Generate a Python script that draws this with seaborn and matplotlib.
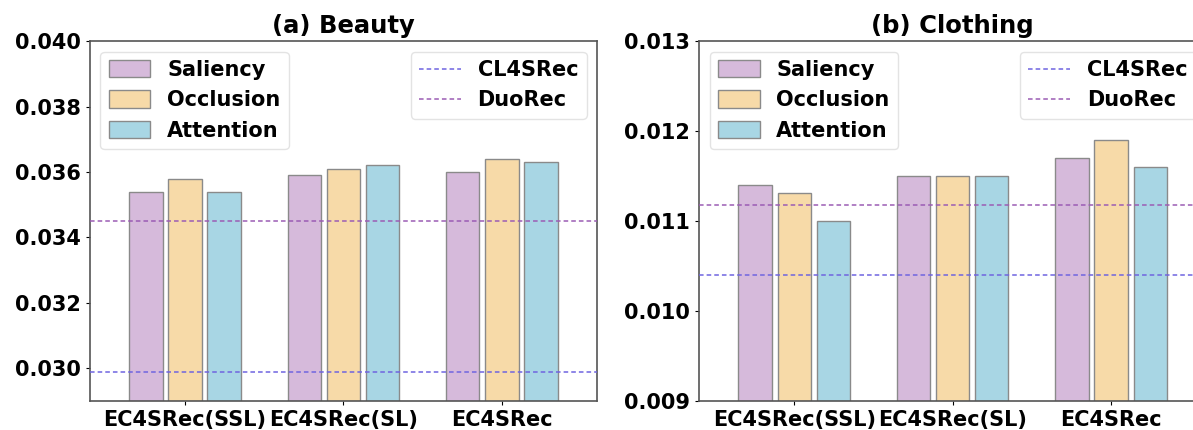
import pandas as pd
import matplotlib.pyplot as plt
import seaborn as sns
from matplotlib.lines import Line2D

# Datos
modelos = ["EC4SRec(SSL)", "EC4SRec(SL)", "EC4SRec"]
metodos = ["Saliency", "Occlusion", "Attention"]

beauty_saliency = [0.0354, 0.0359, 0.0360]
beauty_occlusion = [0.0358, 0.0361, 0.0364]
beauty_attention = [0.0354, 0.0362, 0.0363]
beauty_cl4srec = 0.0299
beauty_duorec = 0.0345

clothing_saliency = [0.01140, 0.01150, 0.01170]
clothing_occlusion = [0.01131, 0.01150, 0.01190]
clothing_attention = [0.01100, 0.01150, 0.01160]
clothing_cl4srec = 0.01040
clothing_duorec = 0.01118

colores = ["#d6badb", "#f7daa8", "#a8d6e4"]
color_cl4srec = "#6f64e0"
color_duorec = "#9b5cb4"

sns.set_style("ticks")
plt.rcParams["font.family"] = ["DejaVu Sans"]
plt.rcParams["font.weight"] = "bold"
plt.rcParams["font.size"] = 15
plt.rcParams["text.color"] = "black"
plt.rcParams["xtick.color"] = "black"
plt.rcParams["ytick.color"] = "black"


def tabla(sal, occ, att):
    filas = []
    for nombre, vals in zip(metodos, [sal, occ, att]):
        for m, v in zip(modelos, vals):
            filas.append({"Modelo": m, "Metodo": nombre, "Valor": v})
    return pd.DataFrame(filas)


def dibujar(ax, df, cl4, duo, titulo, ylim, yticks, fmt):
    sns.barplot(data=df, x="Modelo", y="Valor", hue="Metodo", palette=colores,
                saturation=1, width=0.74, gap=0.15, edgecolor="#8a8a8a",
                linewidth=1, ax=ax, zorder=2)
    ax.axhline(cl4, color=color_cl4srec, linestyle=(0, (3, 2)), linewidth=1.1, zorder=3)
    ax.axhline(duo, color=color_duorec, linestyle=(0, (3, 2)), linewidth=1.1, zorder=3)
    ax.set_xlim(-0.6, 2.6)
    ax.set_ylim(*ylim)
    ax.set_yticks(yticks)
    ax.set_yticklabels([fmt.format(t) for t in yticks])
    ax.set_xlabel("")
    ax.set_ylabel("")
    ax.set_title(titulo, fontsize=17.5, fontweight="bold", pad=6, color="black")
    ax.tick_params(labelsize=15, length=3)
    for s in ax.spines.values():
        s.set_color("#555555")
        s.set_linewidth(1.2)

    handles, labels = ax.get_legend_handles_labels()
    leg1 = ax.legend(handles[:3], metodos, loc="upper left",
                     prop={"weight": "bold", "size": 15}, handlelength=2.0,
                     handleheight=0.9, frameon=True, borderaxespad=0.5)
    leg1.get_frame().set_edgecolor("#dddddd")
    ax.add_artist(leg1)
    lineas = [Line2D([0], [0], color=color_cl4srec, linestyle=(0, (3, 2)), linewidth=1.1),
              Line2D([0], [0], color=color_duorec, linestyle=(0, (3, 2)), linewidth=1.1)]
    leg2 = ax.legend(lineas, ["CL4SRec", "DuoRec"], loc="upper right",
                     prop={"weight": "bold", "size": 15}, handlelength=2.0,
                     frameon=True, borderaxespad=0.5)
    leg2.get_frame().set_edgecolor("#dddddd")


fig = plt.figure(figsize=(11.93, 4.3), dpi=100)
ax1 = fig.add_axes([0.0754, 0.0674, 0.425, 0.837])
ax2 = fig.add_axes([0.586, 0.0674, 0.425, 0.837])

dibujar(ax1, tabla(beauty_saliency, beauty_occlusion, beauty_attention),
        beauty_cl4srec, beauty_duorec, "(a) Beauty", (0.029, 0.040),
        [0.030, 0.032, 0.034, 0.036, 0.038, 0.040], "{:.3f}")
dibujar(ax2, tabla(clothing_saliency, clothing_occlusion, clothing_attention),
        clothing_cl4srec, clothing_duorec, "(b) Clothing", (0.009, 0.013),
        [0.009, 0.010, 0.011, 0.012, 0.013], "{:.3f}")

fig.savefig("out.png", dpi=100)
